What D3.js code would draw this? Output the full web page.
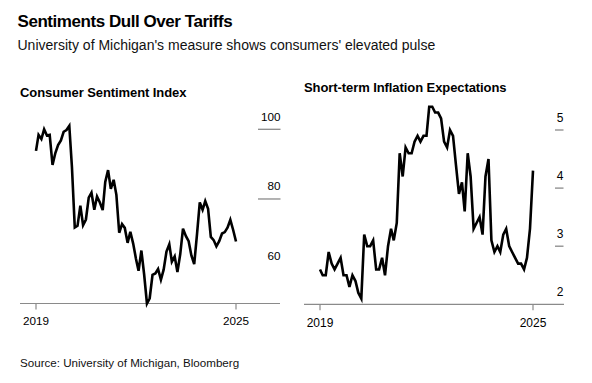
<!DOCTYPE html>
<html><head><meta charset="utf-8">
<script src="https://cdn.jsdelivr.net/npm/d3@7"></script>
<style>
html,body{margin:0;padding:0;background:#fff;}
svg{display:block;font-family:"Liberation Sans",Arial,Helvetica,sans-serif;}
</style></head>
<body><svg id="c" width="592" height="383"></svg>
<script>
// Monthly data, Feb 2019 .. Feb 2025
const startMonth = "2019-02";
const sentiment = [93.8,98.4,97.2,100.0,98.2,98.4,89.8,93.2,95.5,96.8,99.3,
  99.8,101.0,89.1,71.8,72.3,78.1,72.5,74.1,80.4,81.8,76.9,80.7,
  79.0,76.8,84.9,88.3,82.9,85.5,81.2,70.3,72.8,71.7,67.4,70.6,
  67.2,62.8,59.4,65.2,58.4,50.0,51.5,58.2,58.6,59.9,56.8,59.7,
  64.9,67.0,62.0,63.5,59.0,64.2,71.5,69.4,67.9,63.8,61.3,69.7,
  79.0,76.9,79.4,77.2,69.1,68.2,66.4,67.9,70.1,70.5,71.8,74.0,
  71.1,67.8];
const inflationExp = [2.6,2.5,2.5,2.9,2.7,2.6,2.7,2.8,2.5,2.5,2.3,
  2.5,2.4,2.2,2.1,3.2,3.0,3.0,3.1,2.6,2.6,2.8,2.5,
  3.0,3.3,3.1,3.4,4.6,4.2,4.7,4.6,4.6,4.8,4.9,4.8,
  4.9,4.9,5.4,5.4,5.3,5.3,5.2,4.8,4.7,5.0,4.9,4.4,
  3.9,4.1,3.6,4.6,4.2,3.3,3.4,3.5,3.2,4.2,4.5,3.1,
  2.9,3.0,2.9,3.2,3.3,3.0,2.9,2.8,2.7,2.7,2.6,2.8,
  3.3,4.3];
const xTickLabels = ["2019","2025"];
const sentimentTicks = [60,80,100];
const sentimentMarks = [80,100];
const inflationTicks = [2,3,4,5];
const inflationMarks = [3,4,5];

const parse = d3.timeParse("%Y-%m");
const t0 = parse(startMonth);
const toSeries = arr => arr.map((v,i)=>({date:d3.timeMonth.offset(t0,i), value:v}));
const sData = toSeries(sentiment), iData = toSeries(inflationExp);
const tEnd = sData[sData.length-1].date;

const svg = d3.select("#c");
svg.append("text").attr("x",17.5).attr("y",27).attr("font-size",17).attr("font-weight","bold")
  .attr("letter-spacing",-0.45).attr("fill","#000").text("Sentiments Dull Over Tariffs");
svg.append("text").attr("x",17.5).attr("y",49.5).attr("font-size",14).attr("fill","#111")
  .text("University of Michigan's measure shows consumers' elevated pulse");
svg.append("text").attr("x",20).attr("y",367).attr("font-size",11.6).attr("fill","#111")
  .text("Source: University of Michigan, Bloomberg");

function panel(cfg){
  const g = svg.append("g");
  const x = d3.scaleTime().domain([t0,tEnd]).range(cfg.xr);
  const y = d3.scaleLinear().domain(cfg.dom).range(cfg.yr);
  g.append("text").attr("x",cfg.titleX).attr("y",cfg.titleY).attr("font-size",13)
    .attr("font-weight","bold").attr("letter-spacing",-0.08).attr("fill","#000").text(cfg.title);
  // baseline
  g.append("line").attr("x1",cfg.bx[0]).attr("x2",cfg.bx[1])
    .attr("y1",cfg.yr[0]).attr("y2",cfg.yr[0]).attr("stroke","#8a8a8a").attr("stroke-width",1.2);
  // x ticks
  const xt = x.domain();
  xt.forEach((d,i)=>{
    g.append("line").attr("x1",x(d)).attr("x2",x(d)).attr("y1",cfg.yr[0]).attr("y2",cfg.yr[0]+6)
      .attr("stroke","#8a8a8a").attr("stroke-width",1.2);
    g.append("text").attr("x",x(d)).attr("y",cfg.yr[0]+cfg.xlabOff).attr("text-anchor","middle")
      .attr("font-size",cfg.fs).attr("fill","#000").text(xTickLabels[i]);
  });
  // y marks and labels
  cfg.marks.forEach(v=>{
    g.append("line").attr("x1",cfg.gx[0]).attr("x2",cfg.gx[1]).attr("y1",y(v)).attr("y2",y(v))
      .attr("stroke","#8a8a8a").attr("stroke-width",1.3);
  });
  cfg.ticks.forEach(v=>{
    g.append("text").attr("x",cfg.gx[1]).attr("y",y(v)-cfg.labOff).attr("text-anchor","end")
      .attr("font-size",cfg.fs).attr("fill","#000").text(v);
  });
  const line = d3.line().x(d=>x(d.date)).y(d=>y(d.value));
  g.append("path").datum(cfg.data).attr("d",line).attr("fill","none")
    .attr("stroke","#000").attr("stroke-width",2.6).attr("stroke-linejoin","miter");
}

panel({title:"Consumer Sentiment Index", titleX:20, titleY:97, data:sData,
  xr:[36,236], dom:[50,100], yr:[303.5,129.3], bx:[20,280], gx:[258,280.5],
  ticks:sentimentTicks, marks:sentimentMarks, fs:11.7, labOff:8.5, xlabOff:21});
panel({title:"Short-term Inflation Expectations", titleX:304, titleY:92, data:iData,
  xr:[320,533], dom:[2,5], yr:[304.3,130], bx:[304,564], gx:[555,563.5],
  ticks:inflationTicks, marks:inflationMarks, fs:12, labOff:8.5, xlabOff:22.5});
</script></body></html>
